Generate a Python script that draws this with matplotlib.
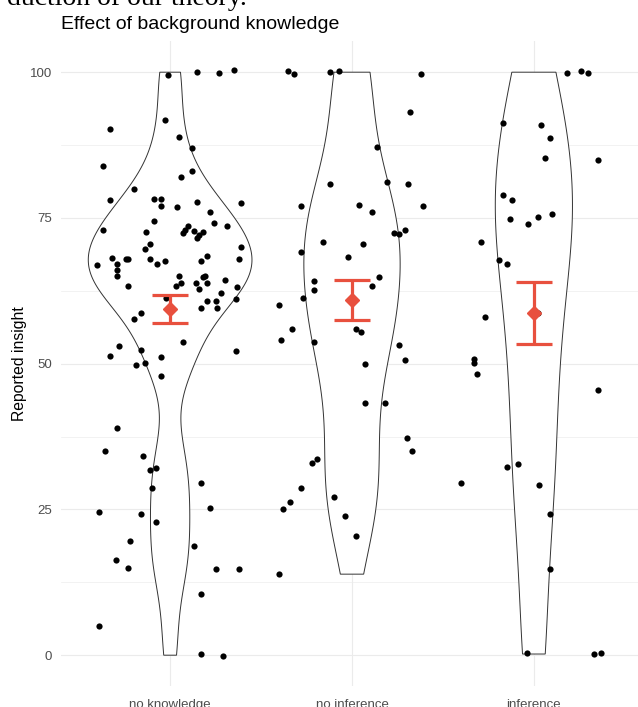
import matplotlib
matplotlib.use("Agg")
import matplotlib.pyplot as plt
import numpy as np

# categories and reported insight scores (as shown, incl. small vertical jitter)
groups = ["no knowledge", "no inference", "inference"]

no_knowledge_y = [
    99.6, 100.0, 99.8, 100.4, 91.8, 90.2, 88.9, 87.0, 83.9, 82.0, 83.0, 80.0,
    78.0, 78.2, 78.2, 77.0, 76.9, 77.8, 77.6, 76.1, 74.4, 74.1, 73.7, 73.0,
    73.6, 72.9, 72.4, 72.8, 72.6, 72.1, 71.6, 72.6, 70.6, 69.6, 70.0, 68.5,
    68.0, 68.2, 67.1, 66.1, 65.0, 67.9, 68.0, 66.9, 68.0, 67.1, 67.6, 67.6,
    63.4, 65.0, 63.9, 63.4, 64.9, 65.0, 63.9, 63.8, 62.8, 64.3, 63.1, 62.2,
    61.1, 60.8, 60.8, 59.6, 59.6, 61.2, 58.7, 57.6, 53.1, 53.7, 51.3, 52.3,
    51.1, 52.1, 49.7, 50.2, 47.9, 38.9, 35.0, 34.2, 31.7, 32.1, 28.7, 29.6,
    24.6, 24.2, 25.2, 22.9, 19.6, 18.7, 16.3, 15.0, 14.8, 14.8, 10.5, 5.0,
    0.2, -0.2,
]
no_knowledge_jit = [
    -0.01, 0.15, 0.27, 0.35, -0.03, -0.33, 0.05, 0.12, -0.37, 0.06, 0.12, -0.20,
    -0.33, -0.09, -0.05, -0.05, 0.04, 0.15, 0.39, 0.22, -0.09, 0.24, 0.31, -0.37,
    0.10, 0.08, 0.07, 0.13, 0.18, 0.16, 0.15, -0.13, -0.11, -0.14, 0.39, 0.20,
    0.38, -0.32, -0.29, -0.29, -0.29, -0.24, -0.23, -0.40, -0.11, -0.07, -0.03, 0.17,
    -0.23, 0.05, 0.06, 0.03, 0.18, 0.19, 0.20, 0.14, 0.16, 0.30, 0.37, 0.28,
    0.36, 0.20, 0.25, 0.26, 0.17, -0.02, -0.16, -0.20, -0.28, 0.07, -0.33, -0.16,
    -0.05, 0.36, -0.19, -0.14, -0.05, -0.29, -0.36, -0.15, -0.11, -0.08, -0.10, 0.17,
    -0.39, -0.16, 0.22, -0.08, -0.22, 0.13, -0.30, -0.23, 0.25, 0.38, 0.17, -0.39,
    0.17, 0.29,
]

no_inference_y = [
    100.2, 99.7, 100.0, 100.2, 99.7, 93.2, 87.2, 80.9, 81.1, 80.9, 77.1, 77.2,
    76.1, 77.1, 72.4, 72.3, 73.0, 70.9, 70.6, 69.1, 68.3, 64.1, 62.6, 64.8,
    63.4, 61.2, 60.0, 55.9, 54.0, 53.7, 55.9, 55.5, 53.2, 50.7, 50.0, 43.2,
    43.3, 37.2, 35.0, 32.9, 33.7, 28.7, 26.3, 25.0, 27.2, 23.9, 20.5, 13.9,
]
no_inference_jit = [
    -0.35, -0.32, -0.12, -0.07, 0.38, 0.32, 0.14, -0.12, 0.19, 0.31, -0.28, 0.04,
    0.11, 0.39, 0.23, 0.26, 0.29, -0.16, 0.06, -0.28, -0.02, -0.21, -0.21, 0.15,
    0.11, -0.27, -0.40, -0.33, -0.39, -0.21, 0.02, 0.05, 0.26, 0.29, 0.07, 0.07,
    0.18, 0.30, 0.33, -0.22, -0.19, -0.28, -0.34, -0.38, -0.10, -0.04, 0.02, -0.40,
]

inference_y = [
    99.8, 100.2, 99.8, 91.3, 90.9, 88.7, 85.2, 84.9, 79.0, 78.1, 74.8, 73.9,
    75.2, 75.7, 70.8, 67.8, 67.1, 58.7, 58.0, 50.8, 50.2, 48.2, 45.5, 32.2,
    32.8, 29.6, 29.2, 24.2, 14.8, 0.3, 0.2, 0.4,
]
inference_jit = [
    0.18, 0.26, 0.30, -0.17, 0.04, 0.09, 0.06, 0.35, -0.17, -0.12, -0.13, -0.03,
    0.02, 0.10, -0.29, -0.19, -0.15, 0.02, -0.27, -0.33, -0.33, -0.31, 0.35, -0.15,
    -0.09, -0.40, 0.03, 0.09, 0.09, -0.04, 0.33, 0.37,
]

all_y = [no_knowledge_y, no_inference_y, inference_y]
all_jit = [no_knowledge_jit, no_inference_jit, inference_jit]

red = "#E8503E"
grid_col = "#EBEBEB"
text_col = "#4D4D4D"


def kde_trimmed(v, n=512):
    # gaussian kde with bw.nrd0, evaluated over the data range (trim = TRUE)
    v = np.asarray(v)
    q75, q25 = np.percentile(v, [75, 25])
    bw = 0.9 * min(v.std(ddof=1), (q75 - q25) / 1.34) * len(v) ** -0.2
    grid = np.linspace(v.min(), v.max(), n)
    dens = np.exp(-0.5 * ((grid[:, None] - v[None, :]) / bw) ** 2).sum(1)
    dens /= len(v) * bw * np.sqrt(2 * np.pi)
    return grid, dens


plt.rcParams["font.family"] = ["Liberation Sans", "DejaVu Sans"]
fig = plt.figure(figsize=(6.38, 7.07), dpi=100)
ax = fig.add_axes([61 / 638, 21.5 / 707, 582 / 638, 644.2 / 707])

# violins, scaled by area (common density scale)
clean = [np.clip(np.asarray(v), 0, 100) for v in all_y]
kdes = [kde_trimmed(v) for v in clean]
dmax = max(d.max() for _, d in kdes)
for i, (g, d) in enumerate(kdes):
    half = d / dmax * 0.9 / 2
    xs = np.concatenate([i + 1 - half, (i + 1 + half)[::-1], [i + 1 - half[0]]])
    ys = np.concatenate([g, g[::-1], [g[0]]])
    ax.fill(xs, ys, facecolor="white", edgecolor="#333333", lw=0.7, zorder=2)

# jittered points
for i, (yv, jv) in enumerate(zip(all_y, all_jit)):
    ax.scatter(np.array(jv) + i + 1, yv, s=20, color="black", lw=0, zorder=3)

# mean +/- standard error
for i, v in enumerate(clean):
    m = v.mean()
    se = v.std(ddof=1) / np.sqrt(len(v))
    ax.vlines(i + 1, m - se, m + se, color=red, lw=2.3, zorder=4)
    ax.hlines([m - se, m + se], i + 1 - 0.1, i + 1 + 0.1, color=red, lw=2.3, zorder=4)
    ax.plot(i + 1, m, marker="D", ms=7, color=red, zorder=5)

ax.set_xlim(0.4, 3.6)
ax.set_ylim(-5.2, 105.3)
ax.set_xticks([1, 2, 3])
ax.set_xticklabels(groups)
ax.set_yticks([0, 25, 50, 75, 100])
ax.set_yticks([12.5, 37.5, 62.5, 87.5], minor=True)
ax.grid(True, which="major", color=grid_col, lw=0.8, zorder=0)
ax.grid(True, which="minor", axis="y", color=grid_col, lw=0.45, zorder=0)
ax.set_axisbelow(True)
for s in ax.spines.values():
    s.set_visible(False)
ax.tick_params(which="both", length=0, labelsize=9.5, labelcolor=text_col)
ax.tick_params(axis="y", pad=6.5)
ax.tick_params(axis="x", pad=10)

fig.text(61 / 638, 1 - 29 / 707, "Effect of background knowledge",
         fontsize=14, va="baseline", ha="left", color="black")
fig.text(20 / 638, 1 - 364 / 707, "Reported insight", rotation=90,
         fontsize=11.3, va="center", ha="center", color="black")
# tail of the document text above the figure (cut off at the top)
fig.text(247 / 638, 1 - 5 / 707, "duction of our theory.", family="Liberation Serif",
         fontsize=20, va="baseline", ha="right", color="black")

fig.savefig("out.png", dpi=100)
